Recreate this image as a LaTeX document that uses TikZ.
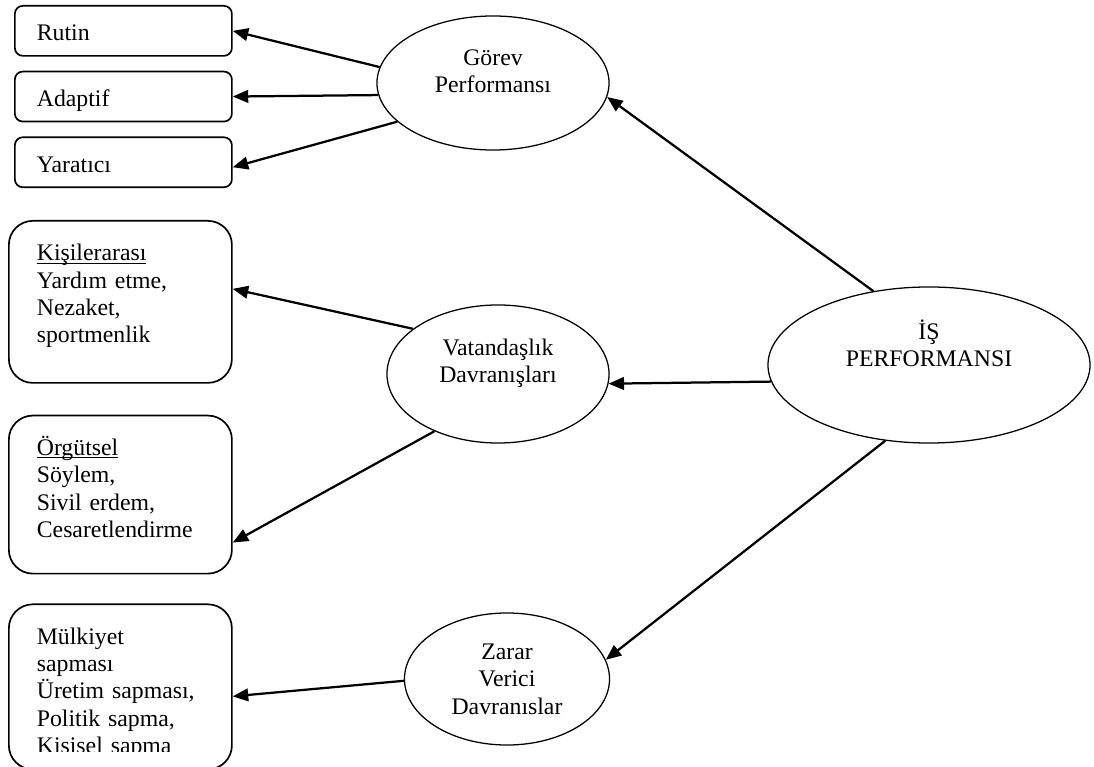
\documentclass[tikz,border=0pt]{standalone}
\usepackage{fontspec}
\setmainfont{Liberation Serif}
\usetikzlibrary{arrows.meta,positioning,shapes.geometric,calc}
\newcommand{\uword}[1]{\setbox0\hbox{#1}\rlap{\rule[-2pt]{\wd0}{0.7pt}}\box0}
\tikzset{
  itembox/.style={
    rectangle, draw=black, line width=1.2pt, align=left,
    inner ysep=0pt, font=\fontsize{16.9}{19.4}\selectfont
  },
  smallbox/.style={
    itembox, rounded corners=0.2cm, inner xsep=0.55cm, text width=4.325cm,
    text height=0.875cm, text depth=0.375cm
  },
  bigbox/.style={
    itembox, rounded corners=0.6cm, inner xsep=0.7cm, text width=4.175cm,
    text height=1cm, text depth=#1
  },
  bubble/.style={
    ellipse, draw=black, line width=0.9pt, align=center, inner sep=0pt,
    font=\fontsize{16.9}{19.4}\selectfont
  },
  linkarrow/.style={-{Triangle[length=11pt,width=9pt]}, line width=1.6pt}
}
\begin{document}
\begin{tikzpicture}[x=0.025cm, y=-0.025cm]
\useasboundingbox (0,0) rectangle (1094,767);
\node[smallbox, anchor=north west] (rutin) at (14,5) {Rutin};
\node[smallbox, below=0.35cm of rutin] (adaptif) {Adaptif};
\node[smallbox, below=0.35cm of adaptif] (yaratici) {Yaratıcı};
\node[bigbox=3.05cm, anchor=north west] (kisi) at (8,220) {\uword{Kişilerarası}\\Yardım etme,\\Nezaket,\\sportmenlik};
\node[bigbox=2.95cm, below=0.775cm of kisi] (orgut) {\uword{Örgütsel}\\Söylem,\\Sivil erdem,\\Cesaretlendirme};
\node[bigbox=3.125cm, below=0.725cm of orgut] (mulk) {Mülkiyet\\sapması\\Üretim sapması,\\Politik sapma,\\Kişisel sapma};
\fill[white] ($(mulk.south west)+(24,-18)$) rectangle ($(mulk.south east)+(-24,-2.5)$);

\node[bubble, minimum width=5.8cm, minimum height=3.35cm, text height=1.09cm, text depth=0.61cm] (gorev) at (493,83) {Görev\\Performansı};
\node[bubble, minimum width=5.55cm, minimum height=3.45cm, text height=1.09cm, text depth=0.66cm] (vatan) at (498,374) {Vatandaşlık\\Davranışları};
\node[bubble, minimum width=5.125cm, minimum height=3.3cm, text height=1.75cm, text depth=-0.2cm] (zarar) at (507,679) {Zarar\\Verici\\Davranıslar};
\node[bubble, minimum width=8.05cm, minimum height=3.9cm, text height=1.075cm, text depth=0.975cm] (isperf) at (929,365) {İŞ\\PERFORMANSI};

\draw[linkarrow] (gorev.172.4) -- (rutin.east);
\draw[linkarrow] (gorev.186.9) -- (adaptif.east);
\draw[linkarrow] (gorev.202.1) -- ($(yaratici.east)+(0,5)$);
\draw[linkarrow] (vatan.152.6) -- ($(kisi.east)+(0,-13)$);
\draw[linkarrow] (vatan.222.3) -- ($(orgut.east)+(0,48)$);
\draw[linkarrow] (zarar.181.7) -- ($(mulk.east)+(0,9.5)$);
\draw[linkarrow] (isperf.127.1) -- (gorev.353.2);
\draw[linkarrow] (isperf.186) -- (vatan.355.9);
\draw[linkarrow] (isperf.240.6) -- (zarar.11.5);
\end{tikzpicture}
\end{document}
